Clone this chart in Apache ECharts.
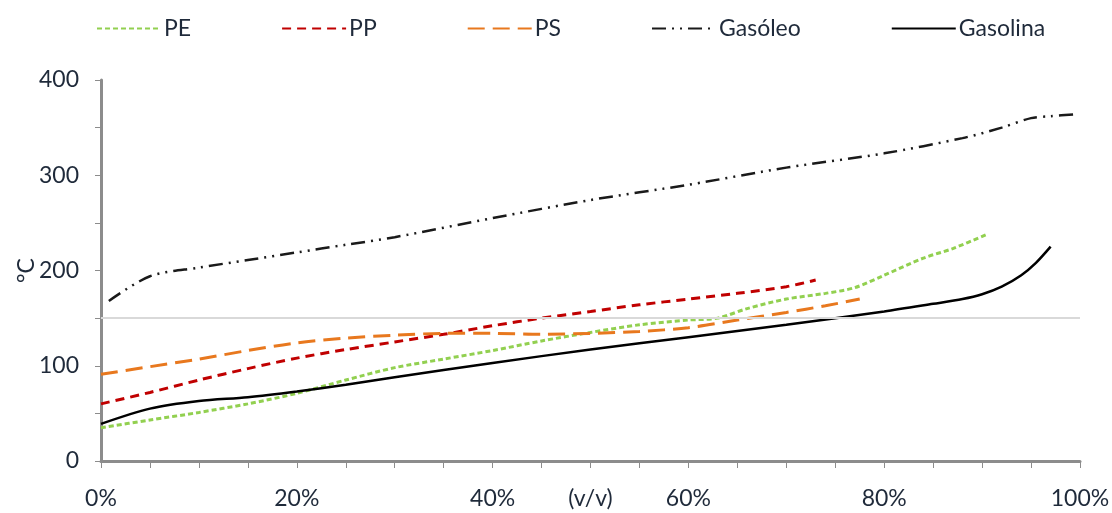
<!DOCTYPE html>
<html>
<head>
<meta charset="utf-8">
<script src="https://cdn.jsdelivr.net/npm/echarts@6/dist/echarts.min.js"></script>
<style>
  html, body { margin: 0; padding: 0; background: #fff; overflow: hidden; }
  #chart { width: 1112px; height: 513px; }
</style>
</head>
<body>
<div id="chart"></div>
<script>
// Distillation curves: recovered volume (% v/v) vs temperature (°C)
const seriesNames = ['PE', 'PP', 'PS', 'Gasóleo', 'Gasolina'];

const pePoints = [[0,35],[5,43],[10,51],[15,60],[20,71],[25,85],[30,98],[35,107],[40,116],[45,126],[50,135],[55,143],[60,148],[63,150],[66,160],[70,170],[74,176],[77,182],[80,195],[84,213],[87,223],[90.5,238]];
const ppPoints = [[0,60],[5,72],[10,85],[15,97],[20,108],[25,117],[30,125],[35,133],[40,142],[45,150],[50,157],[55,164],[60,170],[65,176],[70,183],[73,190]];
const psPoints = [[0,91],[5,99],[10,107],[15,116],[20,124],[25,129],[30,132],[35,134],[40,134],[45,133],[50,134],[55,136],[60,140],[65,148],[70,156],[74,163],[77.5,170]];
const gasoleoPoints = [[0.8,168],[5,194],[10,203],[15,211],[20,219],[25,227],[30,235],[40,255],[50,274],[60,290],[70,308],[80,323],[88,339],[92,350],[95,360],[97,362],[99.5,364]];
const gasolinaPoints = [[0,39],[5,55],[10,63],[15,67],[20,73],[25,80],[30,88],[40,103],[50,117],[60,130],[70,143],[80,157],[85,165],[88,170],[90,175],[92,183],[94,195],[95.5,208],[97,225]];

const xLabelEvery = 20;   // % labels shown every 20 %
const yLabelEvery = 100;  // °C labels shown every 100
const referenceTemp = 150;

const fontFamily = 'Lato, "Liberation Sans", sans-serif';
const textColor = '#1f2a3a';
const axisGray = '#8c8c8c';
const fontSize = 23;

function lineSeries(name, data, color, dash, width) {
  return {
    name: name,
    type: 'line',
    data: data,
    smooth: 0.3,
    symbol: 'none',
    lineStyle: { color: color, width: width, type: dash, cap: 'butt' },
    itemStyle: { color: color },
    emphasis: { disabled: true }
  };
}

const series = [
  lineSeries(seriesNames[0], pePoints, '#92D050', [5, 3], 3),
  lineSeries(seriesNames[1], ppPoints, '#C00000', [9, 6], 3),
  lineSeries(seriesNames[2], psPoints, '#E8781E', [17, 8], 3),
  lineSeries(seriesNames[3], gasoleoPoints, '#1a1a1a', [14, 6, 2, 6, 2, 6], 2.5),
  lineSeries(seriesNames[4], gasolinaPoints, '#000000', 'solid', 2.5)
];

// light reference line at 150 °C
series[4].markLine = {
  silent: true,
  symbol: 'none',
  label: { show: false },
  emphasis: { disabled: true },
  lineStyle: { color: '#d9d9d9', width: 2, type: 'solid' },
  data: [{ yAxis: referenceTemp }]
};

const chart = echarts.init(document.getElementById('chart'), null, { renderer: 'canvas' });
chart.setOption({
  animation: false,
  backgroundColor: '#ffffff',
  textStyle: { fontFamily: fontFamily },
  legend: {
    data: seriesNames,
    top: 12,
    left: 91,
    itemWidth: 64,
    itemHeight: 20,
    itemGap: 90,
    // hide the marker dot so only the line pattern remains
    itemStyle: { opacity: 0, borderWidth: 0 },
    textStyle: { fontSize: fontSize, color: textColor, fontFamily: fontFamily, padding: [0, 0, 0, -2] }
  },
  grid: { left: 101, right: 32, top: 80, bottom: 52, outerBoundsMode: 'none', containLabel: false },
  xAxis: {
    type: 'value',
    min: 0,
    max: 100,
    interval: 5,
    name: '(v/v)',
    nameLocation: 'middle',
    nameGap: 38,
    nameMoveOverlap: false,
    nameTextStyle: { fontSize: fontSize, color: textColor, fontFamily: fontFamily, verticalAlign: 'middle' },
    axisLine: { show: true, lineStyle: { color: axisGray, width: 3 } },
    axisTick: { show: true, length: 7, lineStyle: { color: axisGray, width: 1 } },
    axisLabel: {
      fontSize: fontSize, color: textColor, margin: 26,
      formatter: v => (v % xLabelEvery === 0 ? v + '%' : '')
    },
    splitLine: { show: false }
  },
  yAxis: {
    type: 'value',
    min: 0,
    max: 400,
    interval: 50,
    name: '°C',
    nameLocation: 'middle',
    nameGap: 63,
    nameRotate: 90,
    nameMoveOverlap: false,
    nameTextStyle: { fontSize: fontSize, color: textColor, fontFamily: fontFamily },
    axisLine: { show: true, lineStyle: { color: axisGray, width: 3 } },
    axisTick: { show: true, length: 6, lineStyle: { color: axisGray, width: 1 } },
    axisLabel: {
      fontSize: fontSize, color: textColor, margin: 22,
      formatter: v => (v % yLabelEvery === 0 ? String(v) : '')
    },
    splitLine: { show: false }
  },
  series: series
});
</script>
</body>
</html>
